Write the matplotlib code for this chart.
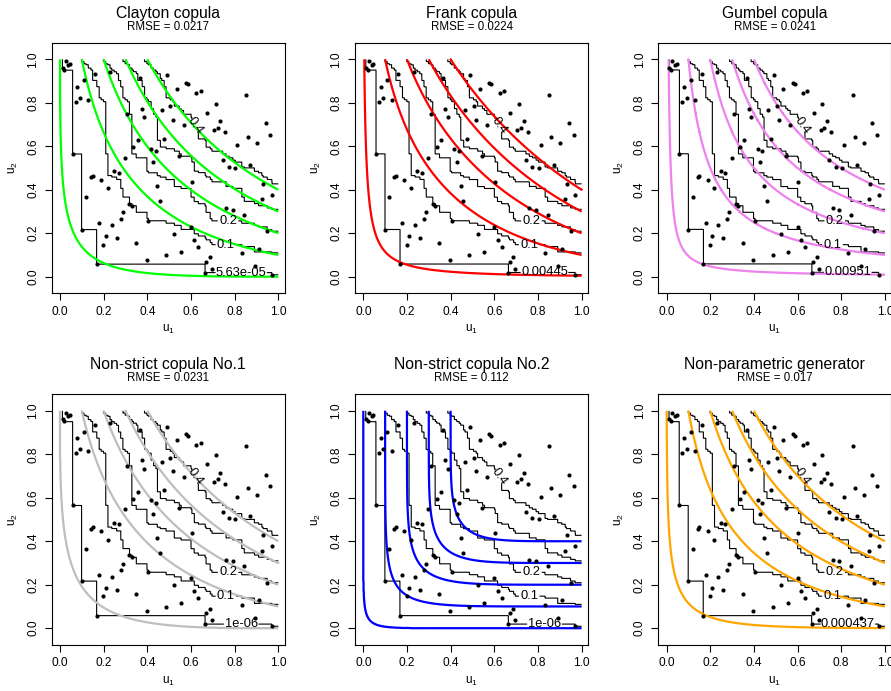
import numpy as np
import matplotlib
matplotlib.use("Agg")
import matplotlib.pyplot as plt

W, H, DPI = 891, 691, 100
plt.rcParams['font.family'] = ['Liberation Sans', 'DejaVu Sans']
plt.rcParams['mathtext.default'] = 'regular'

u_obs = [0.012, 0.020, 0.027, 0.038, 0.046, 0.160, 0.230, 0.110, 0.079, 0.092, 0.072, 0.130, 0.367,
         0.490, 0.309, 0.376, 0.387, 0.466, 0.477, 0.356, 0.336, 0.417, 0.439, 0.298, 0.428, 0.058,
         0.535, 0.577, 0.586, 0.624, 0.645, 0.852, 0.505, 0.714, 0.673, 0.517, 0.566, 0.734, 0.706,
         0.723, 0.754, 0.943, 0.963, 0.861, 0.902, 0.813, 0.546, 0.745, 0.775, 0.803, 0.872,
         0.142, 0.150, 0.188, 0.248, 0.268, 0.219, 0.119, 0.446, 0.459, 0.318, 0.329, 0.288, 0.278,
         0.237, 0.179, 0.405, 0.100, 0.210, 0.260, 0.199, 0.349, 0.398, 0.486, 0.168,
         0.604, 0.931, 0.972, 0.925, 0.761, 0.792, 0.844, 0.950, 0.601, 0.524, 0.615, 0.634, 0.555,
         0.833, 0.910, 0.688, 0.670, 0.696, 0.665, 0.891, 0.971]
v_obs = [0.960, 0.951, 0.990, 0.975, 0.980, 0.934, 0.943, 0.903, 0.874, 0.823, 0.805, 0.814, 0.912,
         0.926, 0.747, 0.773, 0.734, 0.765, 0.634, 0.627, 0.596, 0.588, 0.577, 0.547, 0.527, 0.565,
         0.865, 0.893, 0.885, 0.843, 0.854, 0.836, 0.785, 0.796, 0.754, 0.723, 0.696, 0.716, 0.674,
         0.685, 0.665, 0.705, 0.654, 0.644, 0.614, 0.605, 0.554, 0.536, 0.505, 0.501, 0.515,
         0.458, 0.465, 0.447, 0.485, 0.478, 0.406, 0.366, 0.415, 0.346, 0.336, 0.326, 0.296, 0.267,
         0.236, 0.246, 0.257, 0.217, 0.187, 0.178, 0.147, 0.157, 0.078, 0.098, 0.058,
         0.436, 0.427, 0.378, 0.356, 0.316, 0.309, 0.286, 0.209, 0.229, 0.197, 0.169, 0.138, 0.114,
         0.109, 0.129, 0.089, 0.069, 0.036, 0.019, 0.048, 0.010]

titles = ["Clayton copula", "Frank copula", "Gumbel copula",
          "Non-strict copula No.1", "Non-strict copula No.2", "Non-parametric generator"]
rmse = ["0.0217", "0.0224", "0.0241", "0.0231", "0.112", "0.017"]
upper_levels = [0.1, 0.2, 0.3, 0.4]
min_levels = [5.63e-05, 0.00445, 0.00951, 1e-06, 1e-06, 0.000437]
min_labels = ["5.63e-05", "0.00445", "0.00951", "1e-06", "1e-06", "0.000437"]
# fitted models: family and parameters (estimated from the curves)
families = ["clayton", "frank", "gumbel", "generator", "generator", "generator"]
theta = [-0.3, -2.0, 1.0, None, None, None]
gen_a = [None, None, None, 0.35, 0.6, 0.25]     # generator phi(t) = (1 - t^a)^k
gen_k = [None, None, None, 1.0, 5.0, 1.0]
colors = ["#00FF00", "#FF0000", "#EE82EE", "#BEBEBE", "#0000FF", "#FFA500"]

u = np.array(u_obs)
v = np.array(v_obs)
n = len(u)
g = np.linspace(0, 1, 901)
A = (u[:, None] <= g[None, :]).astype(float)
B = (v[:, None] <= g[None, :]).astype(float)
Cn = B.T @ A / n          # Cn[j, i] = C_n(g_i, g_j)
GU, GV = np.meshgrid(g, g)


def fitted_C(U, V, fam, th, a, k):
    with np.errstate(all='ignore'):
        if fam == "clayton":
            s = np.maximum(U ** (-th) + V ** (-th) - 1, 0.0)
            return s ** (-1 / th)
        if fam == "frank":
            num = (np.exp(-th * U) - 1) * (np.exp(-th * V) - 1)
            return -np.log(1 + num / (np.exp(-th) - 1)) / th
        if fam == "gumbel":
            Uc = np.clip(U, 1e-300, 1)
            Vc = np.clip(V, 1e-300, 1)
            s = (-np.log(Uc)) ** th + (-np.log(Vc)) ** th
            return np.exp(-s ** (1 / th))
        phi = lambda t: (1 - t ** a) ** k
        s = np.minimum(phi(U) + phi(V), 1.0)
        return (1 - s ** (1 / k)) ** (1 / a)


XL, XR, YB, YT = -0.038, 1.03, -0.076, 1.076
SX, SY = 218.3, 217.4
label_fs = 9.3

fig = plt.figure(figsize=(W / DPI, H / DPI), dpi=DPI)
for idx in range(6):
    r, c = divmod(idx, 3)
    x0 = 60 + 303.3 * c
    y0 = 276.7 + 351.5 * r
    left = (x0 + XL * SX) / W
    width = (XR - XL) * SX / W
    bottom = 1 - (y0 - YB * SY) / H
    height = (YT - YB) * SY / H
    ax = fig.add_axes([left, bottom, width, height])
    hpix = (YT - YB) * SY

    ax.scatter(u, v, s=9, c='black', linewidths=0, zorder=4)
    levels = [min_levels[idx]] + upper_levels
    label_spec = {levels[0]: (min_labels[idx], (0.83, 0.02), 0),
                  0.1: ("0.1", (0.76, 0.14), 0),
                  0.2: ("0.2", (0.77, 0.26), 0),
                  0.4: ("0.4", (0.62, 0.70), -55)}
    for lev in levels:
        cs = ax.contour(g, g, Cn, levels=[lev], colors='black', linewidths=0.8, zorder=3)
        if lev in label_spec:
            txt, pos, rot = label_spec[lev]
            t = ax.clabel(cs, manual=[pos], inline=True, fmt={lev: txt},
                          fontsize=label_fs, inline_spacing=2)
            t[-1].set_rotation(rot)
    Cf = fitted_C(GU, GV, families[idx], theta[idx], gen_a[idx], gen_k[idx])
    ax.contour(g, g, Cf, levels=levels, colors=colors[idx], linewidths=1.6, zorder=3.5)

    ax.set_xlim(XL, XR)
    ax.set_ylim(YB, YT)
    ticks = [0.0, 0.2, 0.4, 0.6, 0.8, 1.0]
    ax.set_xticks(ticks)
    ax.set_yticks(ticks)
    ax.set_xticklabels(["0.0", "0.2", "0.4", "0.6", "0.8", "1.0"])
    ax.set_yticklabels(["0.0", "0.2", "0.4", "0.6", "0.8", "1.0"], rotation=90, va='center')
    ax.tick_params(direction='out', length=5, width=0.8, labelsize=8.6, pad=4)
    for sp in ax.spines.values():
        sp.set_linewidth(0.8)
    ax.text(0.5, -36.7 / hpix, "u$_1$", transform=ax.transAxes, ha='center', va='center', fontsize=8.6)
    ax.text(-38.7 / ((XR - XL) * SX), 0.5, "u$_2$", transform=ax.transAxes, ha='center', va='center',
            rotation=90, fontsize=8.6)
    ax.text(0.5, 1 + 29.7 / hpix, titles[idx], transform=ax.transAxes, ha='center', va='center',
            fontsize=11.3)
    ax.text(0.5, 1 + 16.0 / hpix, "RMSE = " + rmse[idx], transform=ax.transAxes, ha='center',
            va='center', fontsize=8.3)

fig.savefig("out.png", dpi=DPI)
